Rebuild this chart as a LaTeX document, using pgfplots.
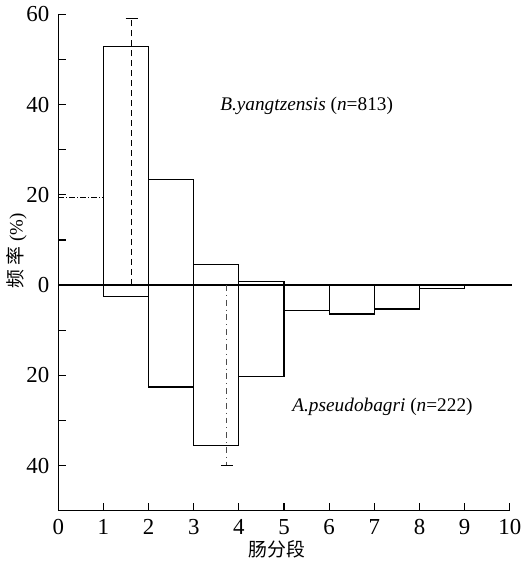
\documentclass[border=0pt]{standalone}
\usepackage{fontspec}
\setmainfont{Liberation Serif}
\newfontfamily\cjk{Noto Sans CJK SC}
\usepackage{pgfplots}
\usepackage{pgfplotstable}
\pgfplotsset{compat=1.18}

% upper: B. yangtzensis, lower: A. pseudobagri (plotted negative)
\pgfplotstableread{
x   y
1   52.8
2   23.4
3   4.5
4   0.8
5   0
}\upperdata
\pgfplotstableread{
x   y
1   -2.6
2   -22.6
3   -35.6
4   -20.2
5   -5.7
6   -6.4
7   -5.3
8   -0.7
9   0
}\lowerdata

\begin{document}
\begin{tikzpicture}
\begin{axis}[
    scale only axis,
    width=227pt, height=249.5pt,
    xmin=0, xmax=10, ymin=-50, ymax=60,
    axis x line=bottom, axis y line=left,
    axis line style={-, line width=0.6pt},
    tick align=inside,
    tick style={black, line width=0.6pt},
    major tick length=0pt, minor tick length=4pt,
    xtick={0,1,...,10},
    ytick={-40,-20,0,20,40,60},
    yticklabels={40,20,0,20,40,60},
    minor ytick={-30,-10,10,30,50},
    tick label style={font=\fontsize{11.5}{13}\selectfont},
    xticklabel style={yshift=-1pt},
    yticklabel style={xshift=-1pt},
    /pgf/number format/assume math mode=true,
    xlabel={\cjk 肠分段},
    ylabel={{\cjk 频\ 率}\ (\%)},
    label style={font=\fontsize{9.5}{11}\selectfont},
    xlabel style={at={(ticklabel cs:0.485)}},
    ylabel style={at={(ticklabel cs:0.523)}},
    ylabel shift=-7pt,
    xlabel shift=-4pt,
    clip=false,
]
\addplot[ybar interval, draw=black, fill=none, line width=0.6pt] table[x=x,y=y] {\upperdata};
\addplot[ybar interval, draw=black, fill=none, line width=0.6pt] table[x=x,y=y] {\lowerdata};
% first segment of B. yangtzensis
\addplot[black, line width=0.5pt, densely dashdotted] coordinates {(0,19.5) (1,19.5)};
\addplot[black, line width=0.5pt] coordinates {(1,0) (1,19.5)};
% zero line
\addplot[black, line width=0.6pt] coordinates {(0,0) (10.05,0)};
% dispersion markers
\addplot[black, line width=0.6pt, densely dashed] coordinates {(1.63,0) (1.63,59)};
\addplot[black, line width=0.6pt] coordinates {(1.49,59) (1.77,59)};
\addplot[black!70, line width=0.4pt, dashdotted] coordinates {(3.72,0) (3.72,-40)};
\addplot[black, line width=0.5pt] coordinates {(3.6,-40) (3.86,-40)};
% major tick marks, drawn inward (4pt long)
\pgfplotsinvokeforeach{-40,-20,20,40,60}{
  \addplot[black, line width=0.6pt] coordinates {(0,#1) (0.176,#1)};
}
\pgfplotsinvokeforeach{1,2,3,4,5,6,7,8,9,10}{
  \addplot[black, line width=0.6pt] coordinates {(#1,-50) (#1,-48.24)};
}
\node[font=\fontsize{9.7}{11}\selectfont] at (axis cs:5.5,39.7) {\textit{B.yangtzensis} (\textit{n}=813)};
\node[font=\fontsize{9.7}{11}\selectfont] at (axis cs:7.18,-27.1) {\textit{A.pseudobagri} (\textit{n}=222)};
\end{axis}
\end{tikzpicture}
\end{document}
